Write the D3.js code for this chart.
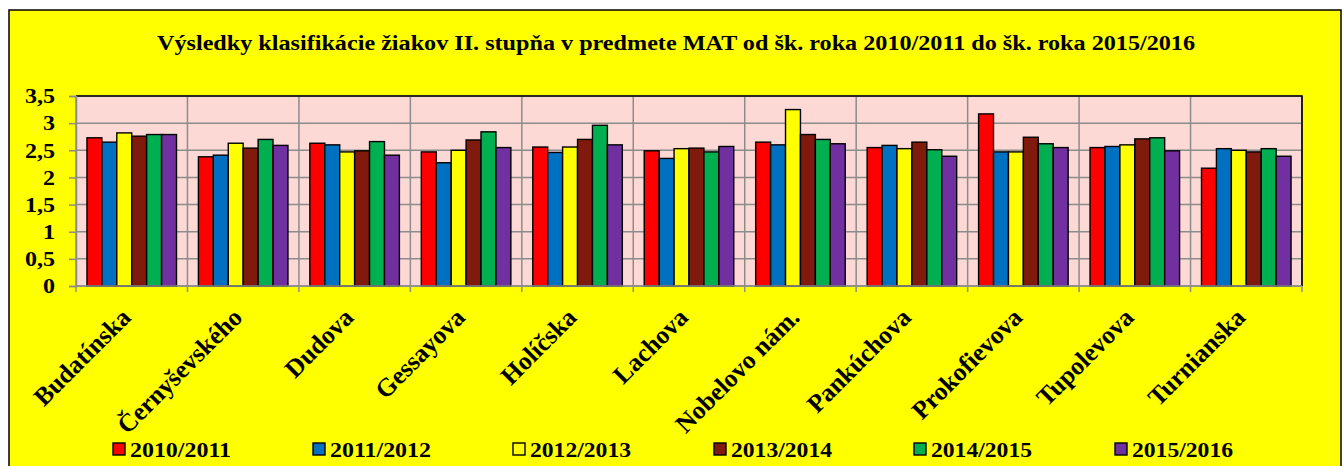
<!DOCTYPE html>
<html><head><meta charset="utf-8">
<script src="https://cdn.jsdelivr.net/npm/d3@7"></script>
<style>
html,body{margin:0;padding:0;background:#fff;}
svg text{font-family:"Liberation Serif","Times New Roman",serif;font-weight:bold;fill:#000;}
</style></head>
<body>
<svg id="chart" width="1344" height="466"></svg>
<script>
const title = "Výsledky klasifikácie žiakov II. stupňa v predmete MAT od šk. roka 2010/2011 do šk. roka 2015/2016";
const categories = ["Budatínska","Černyševského","Dudova","Gessayova","Holíčska","Lachova","Nobelovo nám.","Pankúchova","Prokofievova","Tupolevova","Turnianska"];
const seriesNames = ["2010/2011","2011/2012","2012/2013","2013/2014","2014/2015","2015/2016"];
const seriesColors = ["#FF0000","#0070C0","#FFFF00","#7F1A0C","#00B050","#7030A0"];
const s2010 = [2.73,2.38,2.63,2.47,2.56,2.49,2.65,2.55,3.17,2.55,2.17];
const s2011 = [2.65,2.41,2.60,2.27,2.46,2.35,2.60,2.59,2.47,2.57,2.53];
const s2012 = [2.82,2.63,2.47,2.50,2.56,2.53,3.25,2.53,2.47,2.60,2.50];
const s2013 = [2.76,2.54,2.49,2.69,2.70,2.54,2.79,2.65,2.74,2.71,2.47];
const s2014 = [2.79,2.70,2.66,2.84,2.96,2.47,2.70,2.51,2.62,2.73,2.53];
const s2015 = [2.79,2.59,2.41,2.55,2.60,2.57,2.62,2.39,2.55,2.49,2.39];
const yTicks = [0,0.5,1,1.5,2,2.5,3,3.5];
const allSeries = [s2010,s2011,s2012,s2013,s2014,s2015];

function stretch(sel, k){
  sel.each(function(){
    const w = this.getComputedTextLength();
    d3.select(this).attr("textLength", w*k).attr("lengthAdjust","spacingAndGlyphs");
  });
}

const svg = d3.select("#chart");
svg.append("rect").attr("x",9).attr("y",10).attr("width",1332).attr("height",470)
  .attr("fill","#FFFF00").attr("stroke","#000").attr("stroke-width",1.5);

svg.append("text").attr("x",676).attr("y",50).attr("text-anchor","middle")
  .style("font-size","20px").text(title)
  .attr("textLength",1038).attr("lengthAdjust","spacingAndGlyphs");

const L=76,R=1302,T=96,B=286;
const x0 = d3.scaleBand().domain(categories).range([L,R]).paddingInner(0).paddingOuter(0);
const x1 = d3.scaleBand().domain(seriesNames).range([0,x0.bandwidth()]).paddingInner(0).paddingOuter(0.734);
const y = d3.scaleLinear().domain([0,3.5]).range([B,T]);

svg.append("rect").attr("x",L).attr("y",T).attr("width",R-L).attr("height",B-T).attr("fill","#FCD9D4");

svg.append("g").selectAll("line").data(yTicks).join("line")
  .attr("x1",L).attr("x2",R).attr("y1",d=>y(d)).attr("y2",d=>y(d))
  .attr("stroke","#8C8C8C").attr("stroke-width",1.5);
const bounds = categories.map(c=>x0(c)).concat([R]);
svg.append("g").selectAll("line").data(bounds).join("line")
  .attr("x1",d=>d).attr("x2",d=>d).attr("y1",T).attr("y2",B+6)
  .attr("stroke","#8C8C8C").attr("stroke-width",1.5);

const g = svg.append("g");
categories.forEach((c,ci)=>{
  seriesNames.forEach((s,si)=>{
    const v = allSeries[si][ci];
    g.append("rect").attr("x",x0(c)+x1(s)).attr("y",y(v))
      .attr("width",x1.bandwidth()).attr("height",y(0)-y(v))
      .attr("fill",seriesColors[si]).attr("stroke","#000").attr("stroke-width",1.4);
  });
});

svg.append("path").attr("d",`M${L},${T}H${R}V${B}`).attr("fill","none").attr("stroke","#000").attr("stroke-width",1.6);

const yAxis = d3.axisLeft(y).tickValues(yTicks).tickSize(7).tickPadding(14)
  .tickFormat(d=>String(d).replace(".",","));
const ya = svg.append("g").attr("transform",`translate(${L},0)`).call(yAxis);
ya.select(".domain").attr("stroke","#8C8C8C").attr("stroke-width",1.5);
ya.selectAll(".tick line").attr("stroke","#8C8C8C").attr("stroke-width",1.5);
ya.selectAll("text").style("font-size","20px").style("font-family","Liberation Serif").style("font-weight","bold").attr("fill","#000").attr("dy","0.34em");
stretch(ya.selectAll("text"),1.2);

svg.append("line").attr("x1",L).attr("x2",R).attr("y1",B).attr("y2",B).attr("stroke","#8C8C8C").attr("stroke-width",1.5);

svg.append("g").selectAll("text").data(categories).join("text")
  .attr("transform",d=>`translate(${x0(d)+x0.bandwidth()/2+0.5},${319}) rotate(-45)`)
  .attr("text-anchor","end").style("font-size","25.5px").text(d=>d);

const lx = [113,313,513,714,914,1115];
const lg = svg.append("g");
seriesNames.forEach((s,i)=>{
  lg.append("rect").attr("x",lx[i]).attr("y",443).attr("width",12).attr("height",12)
    .attr("fill",seriesColors[i]).attr("stroke","#000").attr("stroke-width",1.4);
  lg.append("text").attr("x",lx[i]+17).attr("y",457).style("font-size","21.5px").text(s)
    .attr("textLength",101).attr("lengthAdjust","spacingAndGlyphs");
});
</script>
</body></html>
